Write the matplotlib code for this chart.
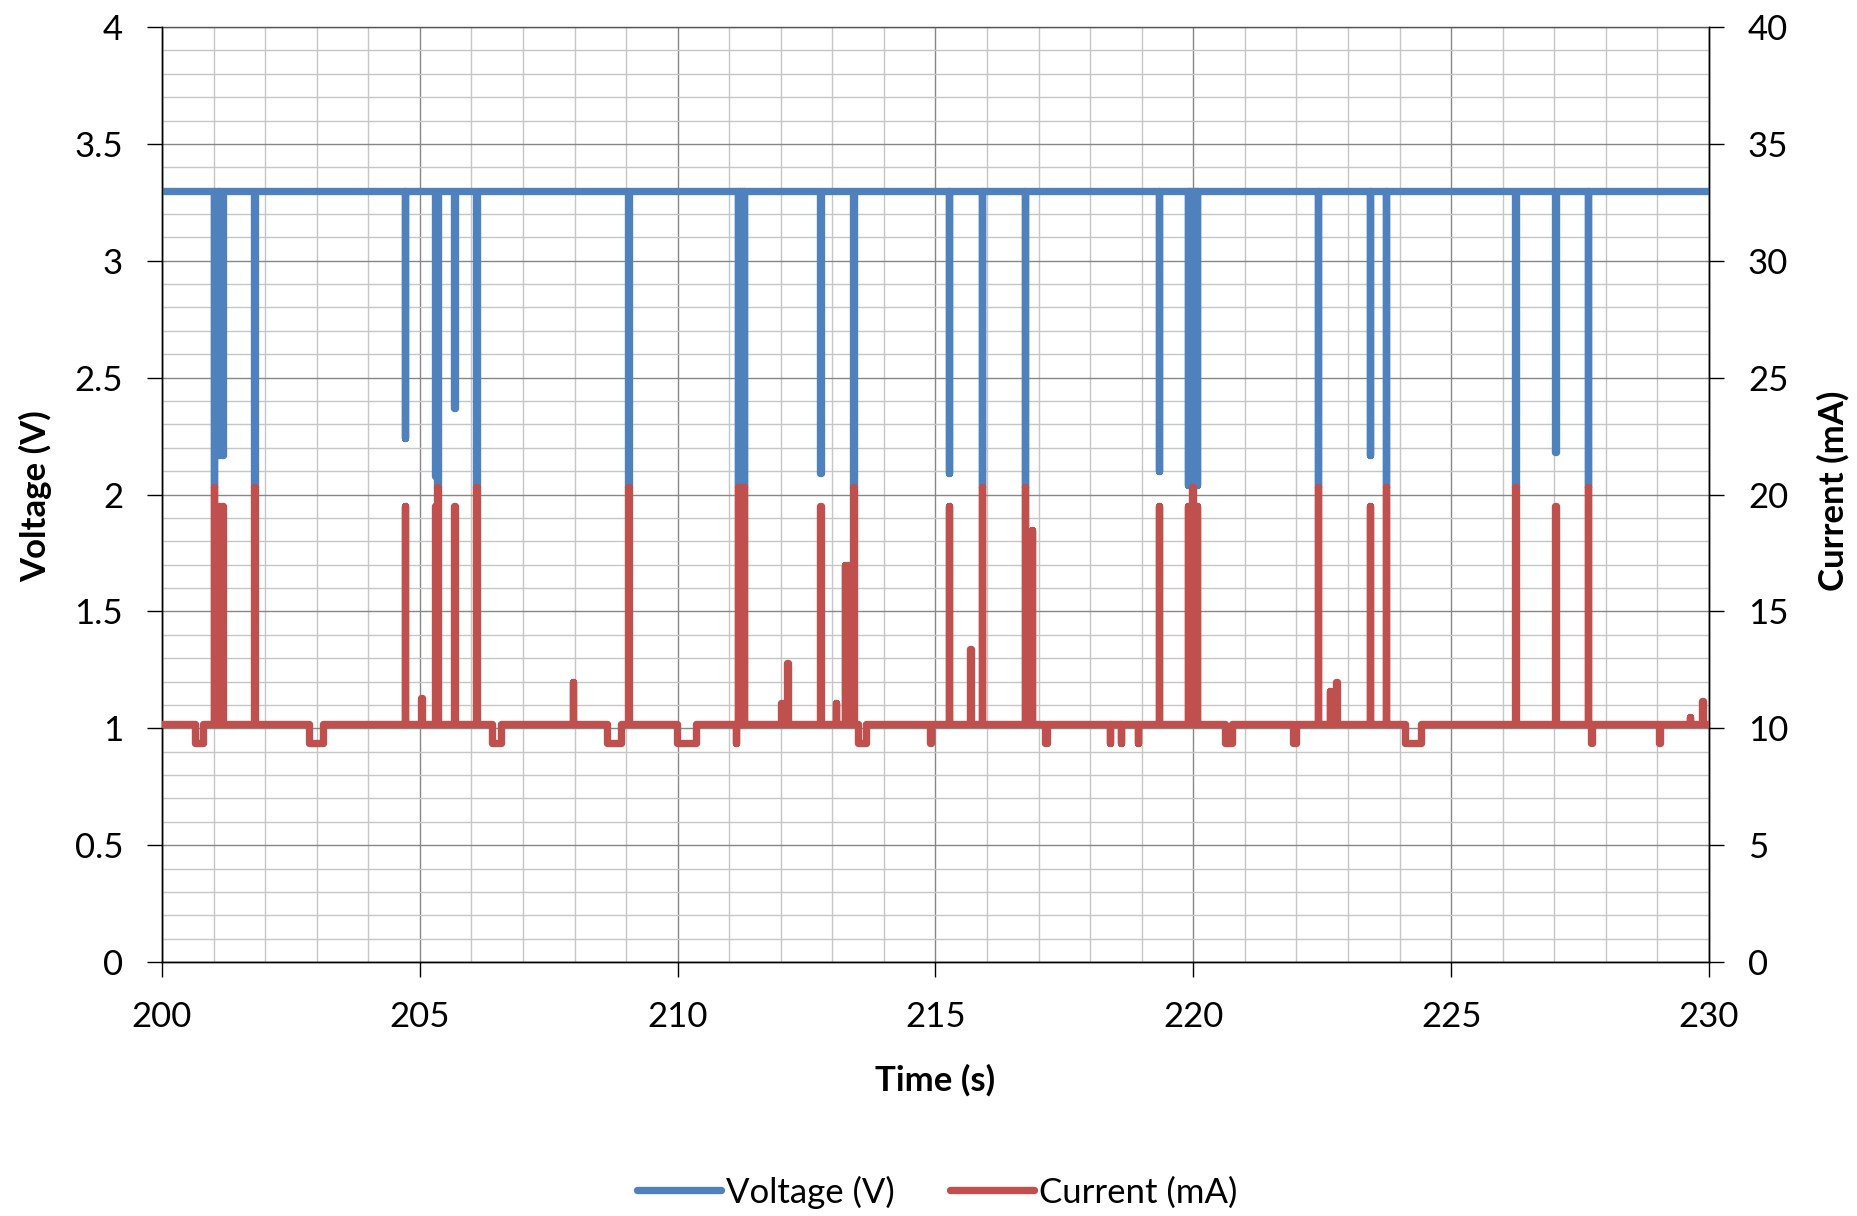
import matplotlib
matplotlib.use("Agg")
import matplotlib.pyplot as plt
from matplotlib.ticker import MultipleLocator
from matplotlib.lines import Line2D

# ---------------- data ----------------
t_start, t_end = 200.0, 230.0

# Voltage: steady level with short dips
volt_base = 3.30
volt_dip_t = [201.01, 201.06, 201.11, 201.17, 201.79, 204.71, 205.30, 205.34,
              205.67, 206.10, 209.05, 211.17, 211.21, 211.25, 211.29, 212.77,
              213.41, 215.26, 215.90, 216.74, 219.33, 219.90, 219.94, 219.98,
              220.03, 220.07, 222.42, 223.43, 223.74, 226.25, 227.02, 227.65]
volt_dip_v = [2.03, 2.17, 2.17, 2.17, 2.03, 2.24, 2.08, 2.03,
              2.37, 2.03, 2.03, 2.03, 2.03, 2.03, 2.03, 2.09,
              2.03, 2.09, 2.03, 2.03, 2.10, 2.04, 2.04, 2.03,
              2.04, 2.04, 2.03, 2.17, 2.03, 2.03, 2.18, 2.03]

# Current: steady level with short spikes and dips
curr_base = 10.2
curr_spike_t = [201.01, 201.06, 201.11, 201.17, 201.79, 204.71, 205.03, 205.30,
                205.34, 205.67, 206.10, 207.97, 209.05, 211.17, 211.21, 211.25,
                211.29, 212.01, 212.13, 212.77, 213.07, 213.25, 213.29, 213.41,
                215.26, 215.68, 215.90, 216.74, 216.87, 219.33, 219.90, 219.94,
                219.98, 220.03, 220.07, 222.42, 222.65, 222.78, 223.43, 223.74,
                226.25, 227.02, 227.65, 229.63, 229.87]
curr_spike_i = [20.3, 19.5, 19.5, 19.5, 20.3, 19.5, 11.3, 19.5,
                20.3, 19.5, 20.3, 12.0, 20.3, 20.3, 20.3, 20.3,
                20.3, 11.1, 12.8, 19.5, 11.1, 17.0, 17.0, 20.3,
                19.5, 13.4, 20.3, 20.3, 18.5, 19.5, 19.5, 19.5,
                20.3, 19.5, 19.5, 20.3, 11.6, 12.0, 19.5, 20.3,
                20.3, 19.5, 20.3, 10.5, 11.15]
curr_dip_t0 = [200.65, 202.85, 206.40, 208.63, 209.99, 211.13, 213.51, 214.89,
               217.12, 218.38, 218.60, 218.93, 220.61, 221.93, 224.11, 227.72,
               229.04]
curr_dip_t1 = [200.79, 203.11, 206.57, 208.90, 210.35, 211.13, 213.64, 214.90,
               217.16, 218.38, 218.60, 218.93, 220.74, 221.98, 224.41, 227.72,
               229.04]
curr_dip_i = 9.35

x_ticks = [200, 205, 210, 215, 220, 225, 230]
v_ticks = [0, 0.5, 1, 1.5, 2, 2.5, 3, 3.5, 4]
i_ticks = [0, 5, 10, 15, 20, 25, 30, 35, 40]

# ---------------- build the traces from the events ----------------
HALF = 0.004


def pulse_trace(base, events, t0, t1):
    xs, ys = [t0], [base]
    for s, e, lv in sorted(events):
        xs += [s, s, e, e]
        ys += [base, lv, lv, base]
    xs.append(t1)
    ys.append(base)
    return xs, ys


v_events = [(t - HALF, t + HALF, v) for t, v in zip(volt_dip_t, volt_dip_v)]
vx, vy = pulse_trace(volt_base, v_events, t_start, t_end)

i_events = [(t - HALF, t + HALF, i) for t, i in zip(curr_spike_t, curr_spike_i)]
i_events += [(a - HALF, b + HALF, curr_dip_i) for a, b in zip(curr_dip_t0, curr_dip_t1)]
ix, iy = pulse_trace(curr_base, i_events, t_start, t_end)

# ---------------- figure ----------------
plt.rcParams['font.family'] = ['Lato', 'DejaVu Sans']
BLUE = '#4F81BD'
RED = '#C0504D'
LW = 5.3
FS = 25

fig = plt.figure(figsize=(18.58, 12.16), dpi=100)
ax = fig.add_axes([162 / 1858, 1 - 962 / 1216, (1709 - 162) / 1858, (962 - 27) / 1216])
ax2 = ax.twinx()

ax.plot(vx, vy, color=BLUE, lw=LW, solid_capstyle='round', solid_joinstyle='round', zorder=3)
ax2.plot(ix, iy, color=RED, lw=LW, solid_capstyle='round', solid_joinstyle='round', zorder=3)

ax.set_xlim(t_start, t_end)
ax.set_ylim(0, 4)
ax2.set_ylim(0, 40)

ax.set_xticks(x_ticks)
ax.set_xticklabels([str(x) for x in x_ticks])
ax.set_yticks(v_ticks)
ax.set_yticklabels([f"{v:g}" for v in v_ticks])
ax2.set_yticks(i_ticks)
ax2.set_yticklabels([str(i) for i in i_ticks])
ax.xaxis.set_minor_locator(MultipleLocator(1))
ax.yaxis.set_minor_locator(MultipleLocator(0.1))

ax.set_axisbelow(True)
ax.grid(which='minor', color='#c6c6c6', lw=1.0)
ax.grid(which='major', color='#878787', lw=1.0)

for a in (ax, ax2):
    a.tick_params(which='major', direction='out', length=11, width=1.0,
                  labelsize=FS, colors='black', pad=17)
    a.tick_params(which='minor', length=0)
    for s in a.spines.values():
        s.set_color('black')
        s.set_linewidth(1.0)
ax.tick_params(axis='x', pad=17)
ax.spines['top'].set_color('#555555')
ax2.spines['top'].set_visible(False)

fig.text(36 / 1858, 1 - 496 / 1216, 'Voltage (V)', rotation=90, ha='center', va='center',
         fontsize=FS, fontweight='bold')
fig.text(1833 / 1858, 1 - 491 / 1216, 'Current (mA)', rotation=90, ha='center', va='center',
         fontsize=FS, fontweight='bold')
fig.text(935 / 1858, 1 - 1080 / 1216, 'Time (s)', ha='center', va='center',
         fontsize=FS, fontweight='bold')

handles = [Line2D([], [], color=BLUE, lw=LW, solid_capstyle='round'),
           Line2D([], [], color=RED, lw=LW, solid_capstyle='round')]
fig.legend(handles, ['Voltage (V)', 'Current (mA)'], loc='center',
           bbox_to_anchor=(0.5045, 1 - 1192 / 1216), ncol=2, frameon=False,
           fontsize=FS, handlelength=2.4, handletextpad=0.15, columnspacing=1.6)

fig.savefig('out.png', dpi=100)
